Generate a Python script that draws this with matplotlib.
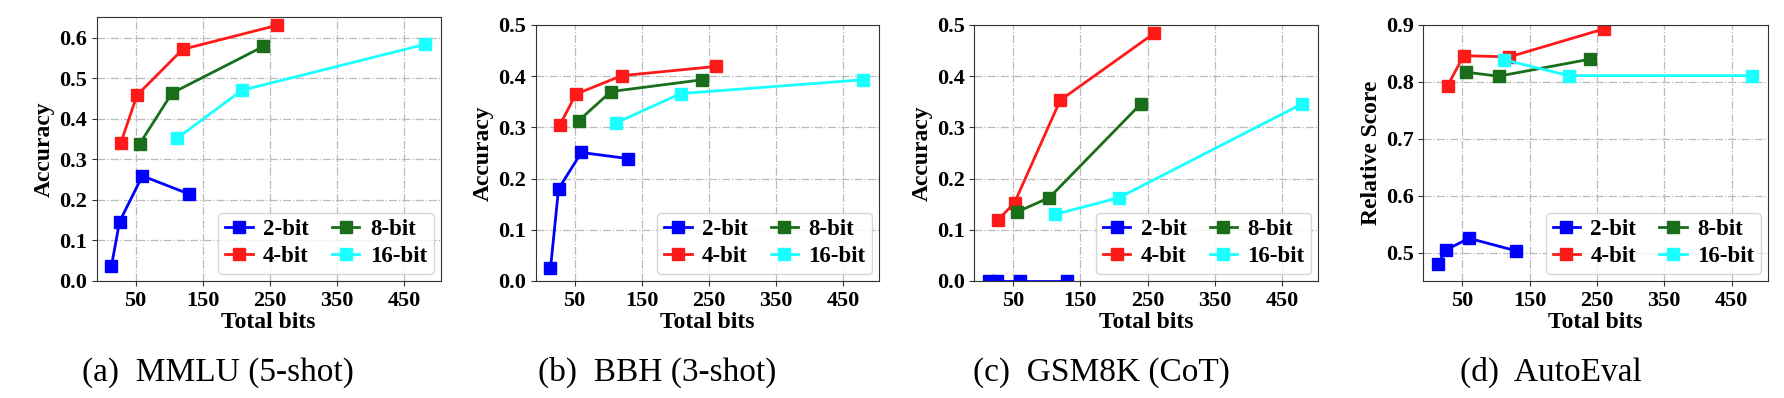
import matplotlib
matplotlib.use('Agg')
import matplotlib.pyplot as plt

plt.rcParams['font.family'] = 'Liberation Serif'
plt.rcParams['font.weight'] = 'bold'

# total bits = model size (B) x bit width
bits_2 = [14, 26, 60, 130]
bits_4 = [28, 52, 120, 260]
bits_8 = [56, 104, 240]
bits_16 = [112, 208, 480]

mmlu_2 = [0.037, 0.146, 0.259, 0.214]
mmlu_4 = [0.341, 0.458, 0.571, 0.630]
mmlu_8 = [0.338, 0.463, 0.578]
mmlu_16 = [0.352, 0.470, 0.583]

bbh_2 = [0.025, 0.180, 0.251, 0.239]
bbh_4 = [0.305, 0.365, 0.401, 0.419]
bbh_8 = [0.313, 0.370, 0.393]
bbh_16 = [0.309, 0.366, 0.393]

gsm_2 = [0.0, 0.0, 0.0, 0.0]
gsm_4 = [0.120, 0.153, 0.353, 0.484]
gsm_8 = [0.135, 0.163, 0.346]
gsm_16 = [0.130, 0.163, 0.346]

auto_2 = [0.480, 0.505, 0.525, 0.503]
auto_4 = [0.793, 0.846, 0.844, 0.893]
auto_8 = [0.817, 0.810, 0.840]
auto_16 = [0.839, 0.811, 0.811]

labels = ['2-bit', '4-bit', '8-bit', '16-bit']
colors = ['#0000ff', '#ff1a1a', '#1a6e1a', '#1affff']
xticks = [50, 150, 250, 350, 450]

panels = [
    ([mmlu_2, mmlu_4, mmlu_8, mmlu_16], 'Accuracy', (0, 0.65), [0.0, 0.1, 0.2, 0.3, 0.4, 0.5, 0.6],
     '(a)  MMLU (5-shot)', [0.0542, 0.294, 0.1928, 0.6626], 218),
    ([bbh_2, bbh_4, bbh_8, bbh_16], 'Accuracy', (0, 0.5), [0.0, 0.1, 0.2, 0.3, 0.4, 0.5],
     '(b)  BBH (3-shot)', [0.3003, 0.294, 0.1926, 0.6432], 657),
    ([gsm_2, gsm_4, gsm_8, gsm_16], 'Accuracy', (0, 0.5), [0.0, 0.1, 0.2, 0.3, 0.4, 0.5],
     '(c)  GSM8K (CoT)', [0.5461, 0.294, 0.1928, 0.6432], 1101),
    ([auto_2, auto_4, auto_8, auto_16], 'Relative Score', (0.45, 0.9), [0.5, 0.6, 0.7, 0.8, 0.9],
     '(d)  AutoEval', [0.7978, 0.294, 0.1932, 0.6432], 1551),
]
xs = [bits_2, bits_4, bits_8, bits_16]

fig = plt.figure(figsize=(17.84, 3.98), dpi=100)

for ys, ylabel, ylim, yticks, caption, rect, cx in panels:
    ax = fig.add_axes(rect)
    for x, y, c, lab in zip(xs, ys, colors, labels):
        ax.plot(x, y, color=c, marker='s', markersize=8, linewidth=2, label=lab)
    ax.set_ylim(*ylim)
    ax.set_xlim(-8, 504)
    ax.set_xticks(xticks)
    ax.set_yticks(yticks)
    ax.set_yticklabels([f"{v:.1f}" for v in yticks])
    ax.tick_params(labelsize=16, length=3.5, color='#333333')
    ax.set_xlabel('Total bits', fontsize=17, fontweight='bold', labelpad=1)
    ax.set_ylabel(ylabel, fontsize=17, fontweight='bold', labelpad=3)
    ax.grid(True, linestyle='-.', color='#bbbbbb', linewidth=0.9)
    for sp in ax.spines.values():
        sp.set_color('#333333')
    ax.legend(loc='lower right', ncol=2, handlelength=1.2,
              columnspacing=1.0, handletextpad=0.45, borderpad=0.3,
              labelspacing=0.25, borderaxespad=0.3,
              prop={'weight': 'bold', 'size': 16.5})
    fig.text(cx / 1784, 0.065, caption, ha='center', va='center',
             fontsize=24, fontweight='normal')

fig.savefig('out.png', dpi=100)
